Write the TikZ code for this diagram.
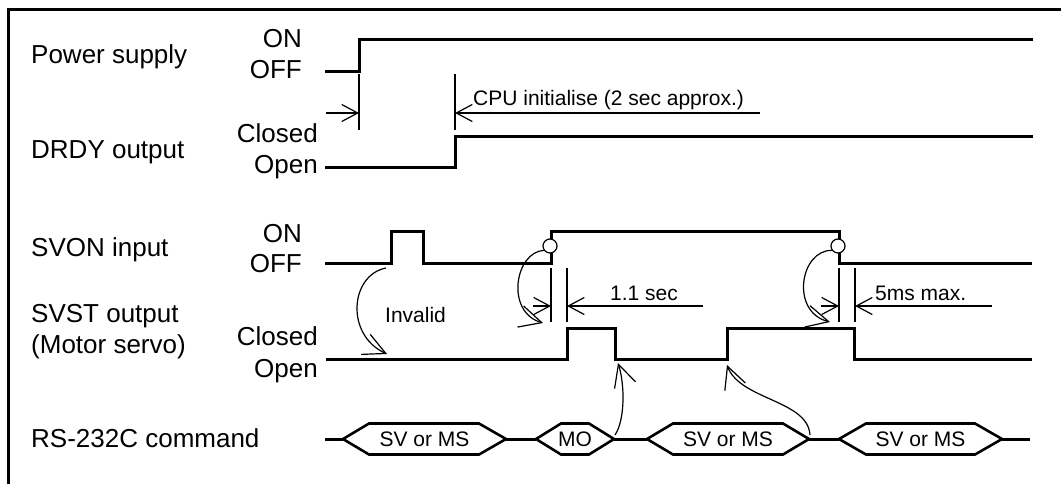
\documentclass[tikz,border=0pt]{standalone}
\usepackage{fontspec}
\setmainfont{Liberation Sans}
\usetikzlibrary{arrows.meta}
\begin{document}
\begin{tikzpicture}[x=1pt,y=-1pt,
  sig/.style={line width=3pt, line join=miter},
  hexline/.style={line width=2.6pt, line join=miter},
  thinline/.style={line width=1.2pt},
  big/.style={font=\fontsize{26}{28}\selectfont, inner sep=0pt},
  small/.style={font=\fontsize{21}{23}\selectfont, inner sep=0pt},
  dimarrow/.style={line width=1.2pt, -{Straight Barb[length=16pt,width=17pt,line width=1.2pt]}},
  curvarrow/.style={line width=1.2pt, -{Straight Barb[length=22pt,width=22pt,line width=1.2pt]}},
  edgecircle/.style={circle, draw, fill=white, line width=1.2pt, minimum size=14pt, inner sep=0pt},
]
\useasboundingbox (0,0) rectangle (1061,483);
% frame
\draw[line width=3pt] (8,484) -- (8,9) -- (1062,9);

% signal names
\node[big, anchor=base west] (lps) at (31,63) {Power supply};
\node[big, anchor=base west] (ldr) at (31,158) {DRDY output};
\node[big, anchor=base west] (lsv) at (31,256) {SVON input};
\node[big, anchor=base west] (lst1) at (31,322) {SVST output};
\node[big, anchor=base west] (lst2) at (31,353) {(Motor servo)};
\node[big, anchor=base west] (lrs) at (31,447) {RS-232C command};

% levels
\node[big, anchor=base east] (pon) at (302,47) {ON};
\node[big, anchor=base east] (poff) at (302,78) {OFF};
\node[big, anchor=base east] (dcl) at (318,142) {Closed};
\node[big, anchor=base east] (dop) at (318,173) {Open};
\node[big, anchor=base east] (son) at (302,242) {ON};
\node[big, anchor=base east] (soff) at (302,272) {OFF};
\node[big, anchor=base east] (tcl) at (318,345) {Closed};
\node[big, anchor=base east] (top) at (318,377) {Open};

% waveforms
\draw[sig] (325,71) -- (359,71) -- (359,39) -- (1033,39);
\draw[sig] (325,167) -- (455,167) -- (455,136) -- (1033,136);
\draw[sig] (325,263) -- (391,263) -- (391,231) -- (423,231) -- (423,263) -- (551,263) -- (551,231) -- (839,231) -- (839,263) -- (1032,263);
\draw[sig] (326,359) -- (567,359) -- (567,328) -- (615,328) -- (615,359) -- (727,359) -- (727,328) -- (854,328) -- (854,359) -- (1032,359);

% CPU initialise dimension
\draw[thinline] (359,74) -- (359,130);
\draw[thinline] (455,74) -- (455,130);
\coordinate (cpuL) at (326,113);
\coordinate (cpuA) at (359,113);
\coordinate (cpuB) at (455,113);
\coordinate (cpuR) at (760,113);
\draw[dimarrow] (cpuL) -- (cpuA);
\draw[dimarrow] (cpuR) -- (cpuB);
\node[small, anchor=base west] (cpu) at (473,105) {CPU initialise (2 sec approx.)};

% 1.1 sec dimension
\draw[thinline] (551,268) -- (551,322);
\draw[thinline] (567,268) -- (567,322);
\coordinate (d1L) at (533,306);
\coordinate (d1A) at (551,306);
\coordinate (d1B) at (567,306);
\coordinate (d1R) at (703,306);
\draw[dimarrow] (d1L) -- (d1A);
\draw[dimarrow] (d1R) -- (d1B);
\node[small, anchor=base west] (t11) at (610,300) {1.1 sec};

% 5ms dimension
\draw[thinline] (839,268) -- (839,322);
\draw[thinline] (855,268) -- (855,322);
\coordinate (d2L) at (821,306);
\coordinate (d2A) at (839,306);
\coordinate (d2B) at (855,306);
\coordinate (d2R) at (992,306);
\draw[dimarrow] (d2L) -- (d2A);
\draw[dimarrow] (d2R) -- (d2B);
\node[small, anchor=base west] (t5) at (875,300) {5ms max.};

% edge circles and curved arrows
\node[edgecircle] (c1) at (550,246) {};
\node[edgecircle] (c2) at (838,246) {};
\coordinate (c1t) at (543,323);
\coordinate (c2t) at (830,322);
\draw[curvarrow] (c1.215) .. controls (515,252) and (505,312) .. (c1t);
\draw[curvarrow] (c2.215) .. controls (800,250) and (790,312) .. (c2t);

% invalid arrow
\coordinate (invS) at (386,268);
\coordinate (invT) at (387,354);
\draw[curvarrow] (invS) .. controls (350,275) and (345,335) .. (invT);
\node[small, anchor=base west] (inv) at (385,322) {Invalid};

% RS-232C bus
\draw[sig] (325,439) -- (343,439);
\draw[sig] (506,439) -- (536,439);
\draw[sig] (614,439) -- (647,439);
\draw[sig] (809,439) -- (839,439);
\draw[sig] (1002,439) -- (1030,439);
\draw[hexline] (343,439) -- (369,423.5) -- (479,423.5) -- (506,439) -- (479,454.5) -- (369,454.5) -- cycle;
\draw[hexline] (536,439) -- (561,423.5) -- (589,423.5) -- (614,439) -- (589,454.5) -- (561,454.5) -- cycle;
\draw[hexline] (647,439) -- (673,423.5) -- (783,423.5) -- (809,439) -- (783,454.5) -- (673,454.5) -- cycle;
\draw[hexline] (839,439) -- (866,423.5) -- (975,423.5) -- (1002,439) -- (975,454.5) -- (866,454.5) -- cycle;
\node[small] (h1) at (424.5,439) {SV or MS};
\node[small] (h2) at (575,439) {MO};
\node[small] (h3) at (728,439) {SV or MS};
\node[small] (h4) at (920.5,439) {SV or MS};

% command arrows
\coordinate (h2r) at (615,435);
\coordinate (h3r) at (810,435);
\coordinate (fallT) at (618,363);
\coordinate (riseT) at (727,365);
\draw[curvarrow] (h2r) .. controls (625,420) and (625,385) .. (fallT);
\draw[curvarrow] (h3r) .. controls (808,400) and (740,400) .. (riseT);
\end{tikzpicture}
\end{document}
